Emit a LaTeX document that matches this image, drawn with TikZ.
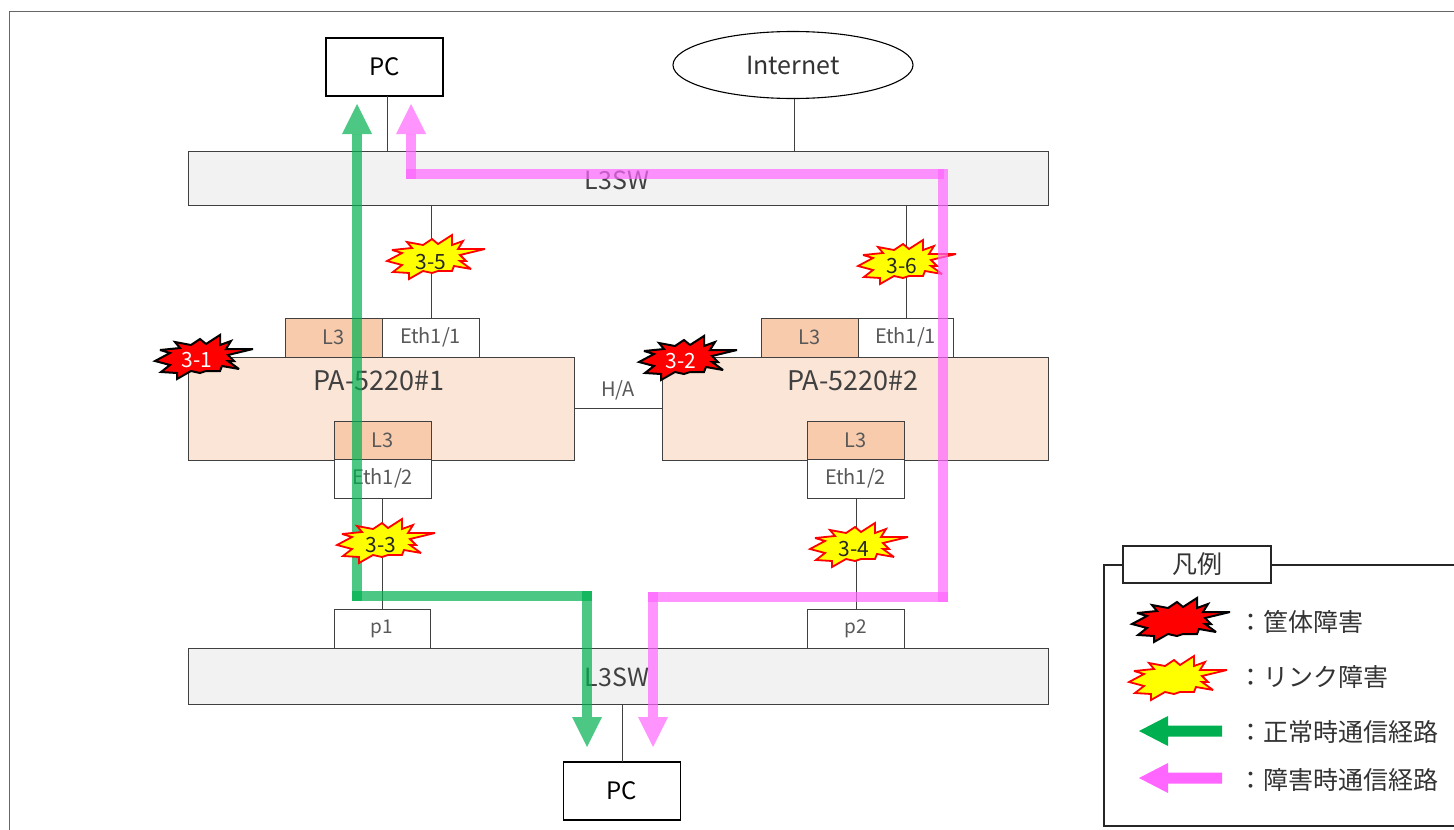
\documentclass[tikz,border=0pt]{standalone}
\usepackage{fontspec}
\setmainfont{Noto Sans CJK JP}
\usetikzlibrary{calc,shapes.geometric}
\definecolor{paf}{HTML}{FBE5D6}
\definecolor{lthree}{HTML}{F8CBAD}
\definecolor{swf}{HTML}{F2F2F2}
\definecolor{gok}{HTML}{00B050}
\definecolor{pok}{HTML}{FF66FF}
\definecolor{wire}{HTML}{404040}
\definecolor{byel}{RGB}{255,255,0}
\definecolor{bred}{RGB}{255,0,0}
\tikzset{
  x=1pt,y=-1pt,
  boxbase/.style={draw=wire,line width=0.9pt,inner sep=0pt,outer sep=0pt,text=black!65,font=\fontsize{20}{20}\selectfont},
  swbox/.style={boxbase,fill=swf},
  pabox/.style={boxbase,fill=paf},
  ltbox/.style={boxbase,fill=lthree},
  wbox/.style={boxbase,fill=white},
  pcbox/.style={draw=black,line width=1.5pt,fill=white,inner sep=0pt,outer sep=0pt,text=black,font=\fontsize{24}{24}\selectfont},
  lbl/.style={inner sep=0pt,outer sep=0pt,text=black!75},
  burstlbl/.style={inner sep=0pt,outer sep=0pt,font=\fontsize{21}{21}\selectfont},
  wirel/.style={draw=wire,line width=0.9pt},
  route/.style={line width=10pt,draw opacity=.7,line cap=butt},
  green/.style={route,draw=gok},
  pink/.style={route,draw=pok},
  ghead/.style={fill=gok,fill opacity=.7},
  phead/.style={fill=pok,fill opacity=.7},
  legtext/.style={inner sep=0pt,outer sep=0pt,anchor=west,text=black!80,font=\fontsize{25}{25}\selectfont},
}
% burst outline centred on the current origin
\newcommand{\burstpath}{(-43,3)--(-28,-5)--(-38,-8)--(-18,-10)--(-23,-16)--(-7,-13)--(2,-19)--(8,-14)--(22,-23)--(22,-13)--(33,-17)--(28,-9)--(55,-9)--(30,-3)--(36,3)--(30,3)--(41,11)--(24,8)--(22,13)--(8,13)--(2,15)--(-7,13)--(-21,21)--(-21,15)--(-37,14)--(-28,7)--cycle}
\tikzset{
  redburst/.pic={\draw[draw=black,line width=2pt,fill=bred,miter limit=4] \burstpath;},
  yelburst/.pic={\draw[draw=bred,line width=1.8pt,fill=byel,miter limit=4] \burstpath;},
}
\begin{document}
\begin{tikzpicture}
\useasboundingbox (0,0) rectangle (1454,830);
\clip (0,0) rectangle (1454,830);
\coordinate (fa) at (1460,11);
\coordinate (fb) at (9,11);
\coordinate (fc) at (9,836);
\draw[draw=black!60,line width=0.9pt] (fa) -- (fb) -- (fc);

% top row
\node[pcbox,minimum width=117pt,minimum height=58pt] (pctop) at (384.5,67) {PC};
\node[draw=black,line width=1.1pt,fill=white,ellipse,inner sep=0pt,outer sep=0pt,minimum width=240pt,minimum height=67pt,text=black!80,font=\fontsize{25}{25}\selectfont] (inet) at (793,65) {Internet};
\node[swbox,minimum width=860pt,minimum height=54pt] (swtop) at (618,178) {};
\node[lbl,font=\fontsize{25}{25}\selectfont] (swtoplbl) at (617,180) {L3SW};

% firewalls
\node[pabox,minimum width=386pt,minimum height=103pt] (pa1) at (381,408.5) {};
\node[pabox,minimum width=386pt,minimum height=103pt] (pa2) at (855,408.5) {};
\node[lbl,font=\fontsize{27}{27}\selectfont] (pa1lbl) at (379,381) {PA-5220\#1};
\node[lbl,font=\fontsize{27}{27}\selectfont] (pa2lbl) at (853,381) {PA-5220\#2};
\node[ltbox,minimum width=97pt,minimum height=39pt] (l3a) at (333.5,337.5) {L3};
\node[wbox,minimum width=97pt,minimum height=39pt] (etha) at (430.5,337.5) {Eth1/1};
\node[ltbox,minimum width=97pt,minimum height=39pt] (l3b) at (809.5,337.5) {L3};
\node[wbox,minimum width=95pt,minimum height=39pt] (ethb) at (905.5,337.5) {Eth1/1};
\node[ltbox,minimum width=97pt,minimum height=38pt] (l3c) at (382.5,440) {L3};
\node[wbox,minimum width=97pt,minimum height=39pt] (ethc) at (382.5,478.5) {Eth1/2};
\node[ltbox,minimum width=97pt,minimum height=38pt] (l3d) at (855.5,440) {L3};
\node[wbox,minimum width=97pt,minimum height=39pt] (ethd) at (855.5,478.5) {Eth1/2};
\node[lbl,text=black!65,font=\fontsize{20}{20}\selectfont] (ha) at (618,390) {H/A};

% bottom row
\node[swbox,minimum width=860pt,minimum height=56pt] (swbot) at (618,676) {};
\node[lbl,font=\fontsize{25}{25}\selectfont] (swbotlbl) at (617,677) {L3SW};
\node[wbox,minimum width=96pt,minimum height=39pt,font=\fontsize{19}{19}\selectfont] (pa) at (382,628.5) {p1};
\node[wbox,minimum width=97pt,minimum height=39pt,font=\fontsize{19}{19}\selectfont] (pb) at (855.5,628.5) {p2};
\node[pcbox,minimum width=117pt,minimum height=58pt] (pcbot) at (622,791) {PC};

% wires
\coordinate (xa) at (387,0);
\coordinate (xb) at (794,0);
\coordinate (xc) at (431,0);
\coordinate (xd) at (906,0);
\coordinate (xe) at (382,0);
\coordinate (xf) at (856,0);
\coordinate (xg) at (622,0);
\draw[wirel] (xa |- pctop.south) -- (xa |- swtop.north);
\draw[wirel] (xb |- inet.south) -- (xb |- swtop.north);
\draw[wirel] (xc |- swtop.south) -- (xc |- etha.north);
\draw[wirel] (xd |- swtop.south) -- (xd |- ethb.north);
\draw[wirel] (xe |- ethc.south) -- (xe |- pa.north);
\draw[wirel] (xf |- ethd.south) -- (xf |- pb.north);
\draw[wirel] (xg |- swbot.south) -- (xg |- pcbot.north);
\draw[wirel] (pa1.east) -- (pa2.west);

% burst under the pink route
\pic at (901,263) {yelburst};

% routes
\coordinate (ga) at (357,134);
\coordinate (gb) at (357,601);
\coordinate (gc) at (352,596);
\coordinate (gd) at (592,596);
\coordinate (ge) at (587,591);
\coordinate (gf) at (587,717);
\draw[green] (gb) -- (ga);
\draw[green] (gc) -- (gd);
\draw[green] (ge) -- (gf);
\fill[ghead] (342,134) -- (357,104) -- (372,134) -- cycle;
\fill[ghead] (572,717) -- (587,747) -- (602,717) -- cycle;
\coordinate (pa0) at (411,134);
\coordinate (pa9) at (411,179);
\coordinate (pb0) at (406,174);
\coordinate (pb9) at (944,174);
\coordinate (pc0) at (943,169);
\coordinate (pc9) at (943,602);
\coordinate (pd0) at (948,597);
\coordinate (pd9) at (648,597);
\coordinate (pe0) at (653,592);
\coordinate (pe9) at (653,717);
\draw[pink] (pa9) -- (pa0);
\draw[pink] (pb0) -- (pb9);
\draw[pink] (pc0) -- (pc9);
\draw[pink] (pd0) -- (pd9);
\draw[pink] (pe0) -- (pe9);
\fill[phead] (396,134) -- (411,104) -- (426,134) -- cycle;
\fill[phead] (638,717) -- (653,747) -- (668,717) -- cycle;

% bursts
\pic at (198,358) {redburst};
\pic at (682,359) {redburst};
\pic at (430,258) {yelburst};
\pic at (380,542) {yelburst};
\pic at (853,546) {yelburst};
\node[burstlbl,text=white] (tb1) at (197,360) {3-1};
\node[burstlbl,text=white] (tb2) at (681,361) {3-2};
\node[burstlbl,text=black!85] (tb5) at (431,262) {3-5};
\node[burstlbl,text=black!85] (tb6) at (902,266) {3-6};
\node[burstlbl,text=black!85] (tb3) at (381,545) {3-3};
\node[burstlbl,text=black!85] (tb4) at (854,549) {3-4};

% legend
\coordinate (la) at (1460,565);
\coordinate (lb) at (1104,565);
\coordinate (lc) at (1104,826);
\coordinate (ld) at (1460,826);
\draw[draw=black!85,line width=1.5pt] (la) -- (lb) -- (lc) -- (ld);
\node[draw=black!85,line width=1.5pt,fill=white,inner sep=0pt,outer sep=0pt,minimum width=148pt,minimum height=37pt,text=black!80,font=\fontsize{25}{25}\selectfont] (legt) at (1197,564.5) {凡例};
\pic at (1175,621) {redburst};
\pic at (1172,679) {yelburst};
\fill[fill=gok] (1139,731) -- (1168,716) -- (1168,725.5) -- (1222,725.5) -- (1222,736.5) -- (1168,736.5) -- (1168,746) -- cycle;
\fill[fill=pok] (1139,778) -- (1168,763) -- (1168,772.5) -- (1222,772.5) -- (1222,783.5) -- (1168,783.5) -- (1168,793) -- cycle;
\node[legtext] (lt1) at (1238,622) {：筐体障害};
\node[legtext] (lt2) at (1238,677) {：リンク障害};
\node[legtext] (lt3) at (1238,732) {：正常時通信経路};
\node[legtext] (lt4) at (1238,780) {：障害時通信経路};
\end{tikzpicture}
\end{document}
